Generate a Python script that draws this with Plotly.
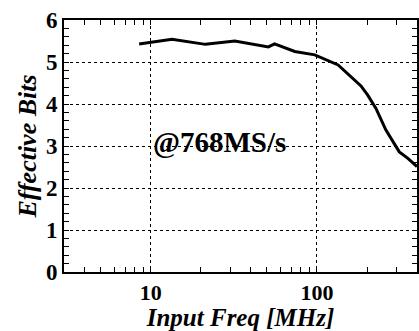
import math
import plotly.graph_objects as go

freq_mhz = [8.5, 10, 13.4, 21.3, 32, 51, 55.5, 73.5, 97, 134, 160, 184, 202, 212, 226, 260, 298, 313, 351, 400]
eff_bits = [5.43, 5.47, 5.54, 5.42, 5.50, 5.36, 5.43, 5.25, 5.17, 4.93, 4.65, 4.43, 4.21, 4.08, 3.90, 3.38, 2.98, 2.86, 2.71, 2.51]

x_major = [10, 100]
x_major_text = ["10", "100"]
x_minor = [3, 4, 5, 6, 7, 8, 9, 20, 30, 40, 50, 60, 70, 80, 90, 200, 300]
y_major = [0, 1, 2, 3, 4, 5, 6]
y_minor = [i / 5 for i in range(0, 31) if i % 5 != 0]
note_text = "@768MS/s"
note_freq = 25.9
note_bits = 3.1

FONT = "Liberation Serif"
XR = [math.log10(3), 2.602]
YR = [0, 6]

x_ticks = sorted(x_major + x_minor)
x_text = [x_major_text[x_major.index(v)] if v in x_major else "" for v in x_ticks]
y_ticks = sorted(y_major + y_minor)
y_text = [str(int(v)) if v in y_major else "" for v in y_ticks]

fig = go.Figure()
fig.add_trace(go.Scatter(x=freq_mhz, y=eff_bits, mode="lines",
                         line=dict(color="black", width=3), showlegend=False,
                         hoverinfo="x+y"))
# helper trace placing the grid-only overlay axes
fig.add_trace(go.Scatter(x=[freq_mhz[0]], y=[eff_bits[0]], xaxis="x2", yaxis="y2",
                         mode="markers", marker=dict(opacity=0), hoverinfo="skip",
                         showlegend=False))

fig.update_layout(
    width=419, height=331,
    margin=dict(l=64, r=0, t=20, b=59),
    paper_bgcolor="white", plot_bgcolor="white",
    font=dict(family=FONT, color="black"),
    xaxis=dict(
        type="log", range=XR,
        tickmode="array", tickvals=x_ticks, ticktext=x_text,
        ticks="inside", ticklen=5, tickwidth=1.3, tickcolor="black",
        showline=True, linecolor="black", linewidth=2, mirror="allticks",
        showgrid=False, zeroline=False,
        tickfont=dict(family=FONT, size=22, color="black", weight="bold"),
        title=dict(text="<b><i>Input Freq [MHz]</i></b>", standoff=2,
                   font=dict(family=FONT, size=25, color="black")),
    ),
    yaxis=dict(
        range=YR,
        tickmode="array", tickvals=y_ticks, ticktext=y_text,
        ticks="inside", ticklen=5, tickwidth=1.3, tickcolor="black",
        showline=True, linecolor="black", linewidth=2, mirror="allticks",
        showgrid=False, zeroline=False,
        tickfont=dict(family=FONT, size=23, color="black", weight="bold"),
        title=dict(text="<b><i>Effective Bits</i></b>", standoff=2,
                   font=dict(family=FONT, size=26, color="black")),
    ),
    xaxis2=dict(
        type="log", range=XR, overlaying="x", anchor="y2",
        tickmode="array", tickvals=x_major, showticklabels=False, ticks="",
        showgrid=True, gridcolor="black", gridwidth=1.2, griddash="3px,3px",
        showline=False, zeroline=False,
    ),
    yaxis2=dict(
        range=YR, overlaying="y", anchor="x2",
        tickmode="array", tickvals=y_major[1:-1], showticklabels=False, ticks="",
        showgrid=True, gridcolor="black", gridwidth=1.2, griddash="3px,3px",
        showline=False, zeroline=False,
    ),
    annotations=[dict(x=math.log10(note_freq), y=note_bits, xref="x", yref="y",
                      text="<b>" + note_text + "</b>", showarrow=False,
                      font=dict(family=FONT, size=29, color="black"))],
)

fig.write_html("out.html")
